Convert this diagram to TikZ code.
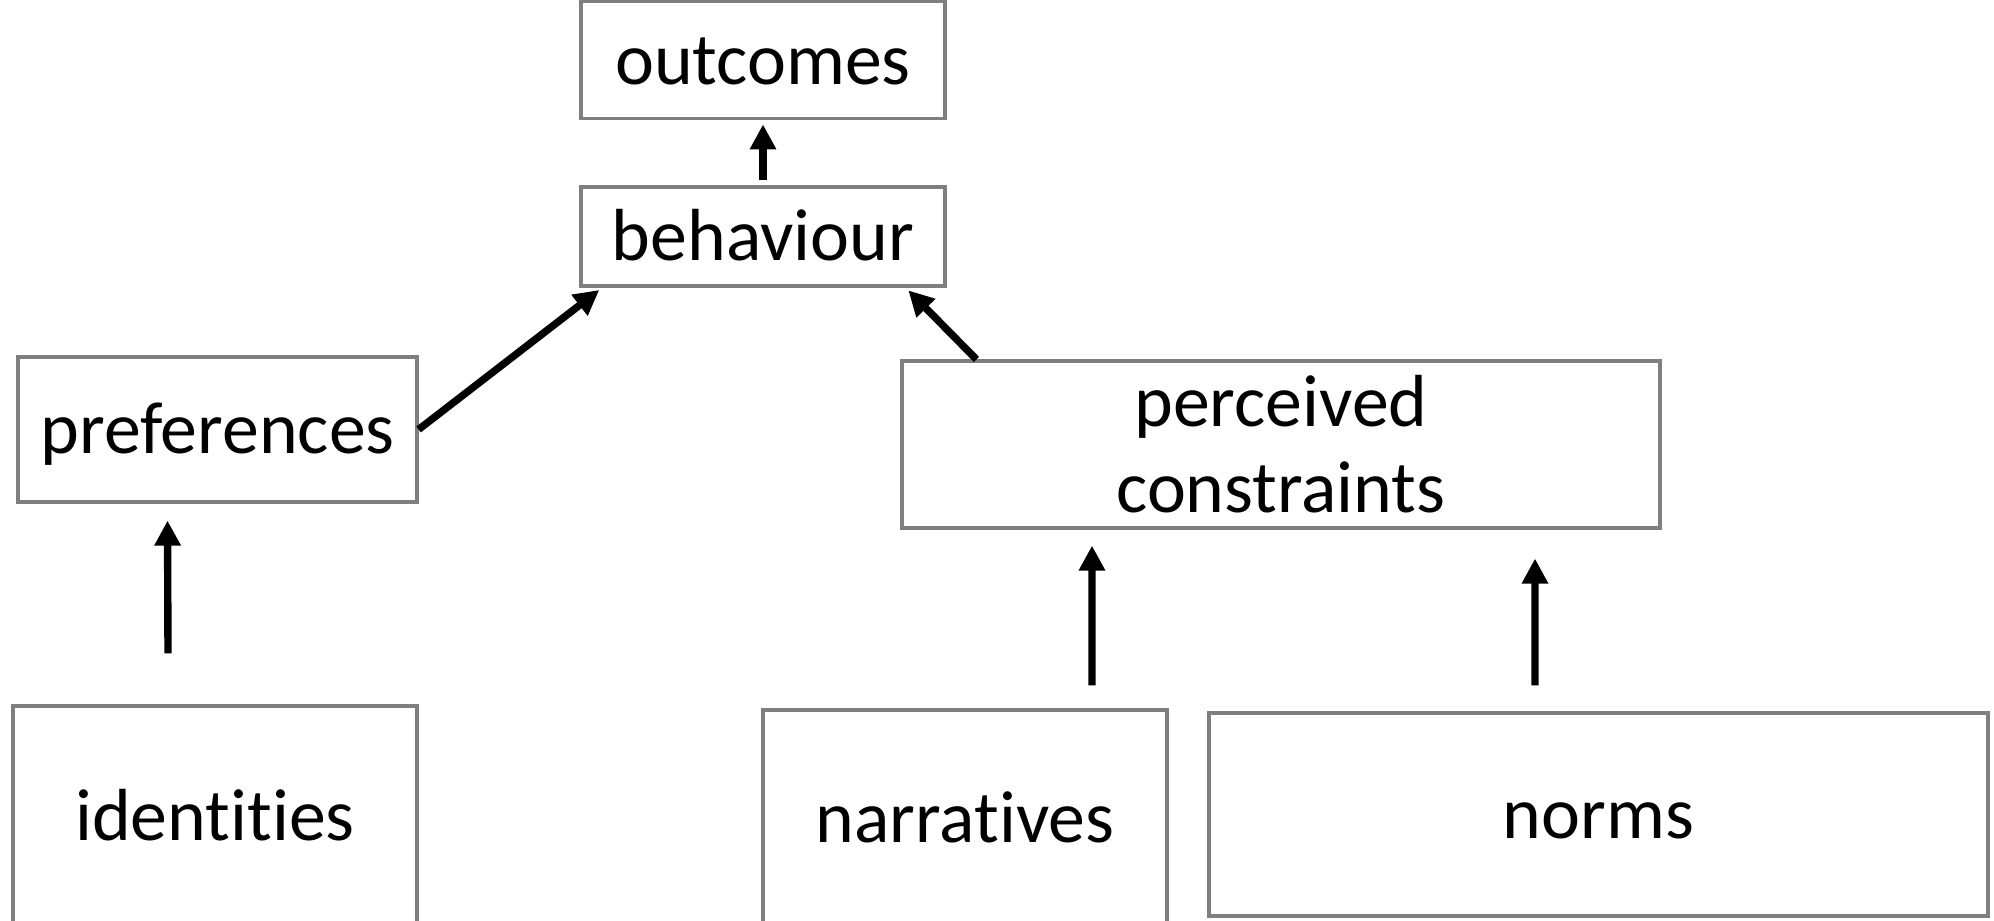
\documentclass[tikz,border=0pt]{standalone}
\usepackage{fontspec}
\setmainfont{Carlito}[Ligatures=CommonOff]
\usetikzlibrary{arrows.meta,positioning}
\definecolor{edge}{HTML}{7F7F7F}
\tikzset{
  box/.style={draw=edge,line width=0.9pt,align=center,inner sep=0pt,font=\fontsize{21}{24.5}\selectfont},
  sbox/.style={box,text height=0.62cm,text depth=0.14cm},
  ar/.style={-{Triangle[length=0.25cm,width=0.25cm]},line width=2.1pt,draw=black},
}
\begin{document}
\begin{tikzpicture}
\useasboundingbox (0,0) rectangle (19.94,9.2);
\node[sbox,minimum width=3.64cm,minimum height=0.99cm] (beh) at (7.63,6.835) {behaviour};
\node[sbox,above=0.65cm of beh,minimum width=3.64cm,minimum height=1.17cm] (out) {outcomes};
\node[sbox,minimum width=3.99cm,minimum height=1.45cm] (pref) at (2.175,4.905) {preferences};
\node[box,minimum width=7.58cm,minimum height=1.67cm] (pc) at (12.81,4.755) {perceived\\constraints};
\node[sbox,minimum width=4.04cm,minimum height=2.2cm] (id) at (2.15,1.04) {identities};
\node[sbox,minimum width=4.04cm,minimum height=2.16cm] (nar) at (9.65,1.02) {narratives};
\node[sbox,minimum width=7.79cm,minimum height=2.03cm] (norm) at (15.985,1.055) {norms};
% arrows
\draw[ar,shorten <=0.05cm,shorten >=0.04cm] (beh.north) -- (out.south);
\draw[ar,shorten >=0.04cm] (pref.east) -- ([xshift=0.23cm]beh.south west);
\draw[ar,shorten >=0.04cm] ([xshift=0.76cm]pc.north west) -- ([xshift=-0.41cm]beh.south east);
\draw[ar] ([xshift=-0.47cm,yshift=0.51cm]id.north) -- ([xshift=-0.5cm,yshift=-0.17cm]pref.south);
\draw[ar] ([xshift=1.27cm,yshift=0.23cm]nar.north) -- ([xshift=-1.89cm,yshift=-0.16cm]pc.south);
\draw[ar] ([xshift=-0.635cm,yshift=0.26cm]norm.north) -- ([xshift=2.54cm,yshift=-0.29cm]pc.south);
\end{tikzpicture}
\end{document}
